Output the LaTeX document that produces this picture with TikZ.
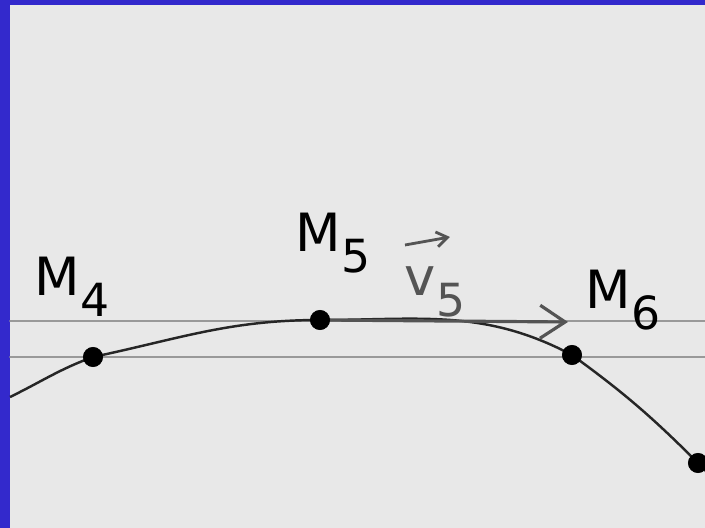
\documentclass[tikz,border=0pt]{standalone}
\usepackage{fontspec}
\setmainfont{DejaVu Sans}
\usepackage{tkz-euclide}
\usetikzlibrary{arrows.meta,calc}
\definecolor{FrameClr}{rgb}{0.2,0.16,0.8}
\definecolor{PaperClr}{rgb}{0.91,0.91,0.91}
\definecolor{RuleClr}{rgb}{0.6,0.6,0.6}
\definecolor{VecClr}{rgb}{0.33,0.33,0.33}
\newcommand{\PtName}[2]{#1\kern.02em\raisebox{-.4em}{\fontsize{26}{26}\selectfont #2}}

\begin{document}
\begin{tikzpicture}[lab/.style={font=\fontsize{30}{30}\selectfont,inner sep=0pt}]
\useasboundingbox (0,0) rectangle (14.1,10.56);
\clip (0,0) rectangle (14.1,10.56);
\fill[PaperClr] (0,0) rectangle (14.1,10.56);
\fill[FrameClr] (0,0) rectangle (0.2,10.56);
\fill[FrameClr] (0,10.46) rectangle (14.1,10.56);

\tkzSetUpLine[line width=1pt,color=RuleClr]
\tkzSetUpPoint[fill=black,color=black]

\tkzDefPoint(0.2,2.62){S}
\tkzDefPoint(1.86,3.42){M4}
\tkzDefPoint(6.40,4.16){M5}
\tkzDefPoint(11.44,3.46){M6}
\tkzDefPoint(13.96,1.30){M7}
\tkzDefPoint(14.4,0.84){E}
\tkzDefPoint(11.36,4.12){V}

\tkzDefPoint(0.2,4.14){A} \tkzDefPoint(14.1,4.14){B}
\tkzDefPoint(0.2,3.42){C} \tkzDefPoint(14.1,3.42){D}

\tkzDrawSegments(A,B C,D)

% the trajectory
\draw[line width=1.4pt,black!85] (S) to[out=26,in=-160] (M4) to[out=12,in=180] (M5)
  to[out=0,in=152] (M6) to[out=-36,in=135] (M7) to[out=-45,in=135] (E);

\draw[VecClr,line width=1.8pt,-{Straight Barb[length=0.5cm,width=0.66cm]}] (M5) -- (V);

\tkzDrawPoints[size=11](M4,M5,M6,M7)

\node[lab] (lM4) at ($(M4)+(-0.42,1.4)$) {\PtName{M}{4}};
\node[lab] (lM5) at ($(M5)+(0.26,1.54)$) {\PtName{M}{5}};
\node[lab] (lM6) at ($(M6)+(1.02,1.1)$) {\PtName{M}{6}};
\node[lab,VecClr] (lV5) at (8.7,4.72) {\PtName{v}{5}};

\coordinate (vt) at (8.1,5.66);
\coordinate (vh) at (9.0,5.82);
\draw[VecClr,line width=1.6pt,-{Straight Barb[length=0.22cm,width=0.3cm]}] (vt) -- (vh);
\end{tikzpicture}
\end{document}
